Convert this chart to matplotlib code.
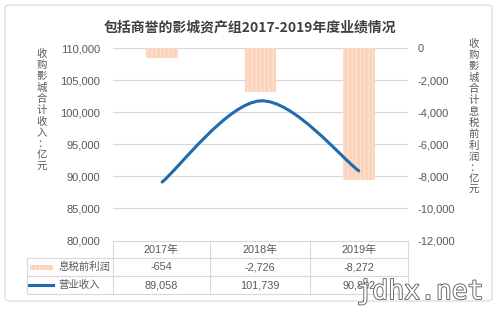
'''Revenue and EBIT of the cinema asset group, 2017-2019.'''

import numpy as np
import matplotlib
matplotlib.use('Agg')
import matplotlib.pyplot as plt
import matplotlib.patheffects as pe
from matplotlib.path import Path
from matplotlib.patches import PathPatch, FancyBboxPatch

plt.rcParams['font.family'] = ['Noto Sans CJK SC', 'DejaVu Sans']
plt.rcParams['hatch.linewidth'] = 0.6

years = ['2017年', '2018年', '2019年']
ebit = [-654, -2726, -8272]
revenue = [89058, 101739, 90802]
left_ticks = [80000, 85000, 90000, 95000, 100000, 105000, 110000]
right_ticks = [-12000, -10000, -8000, -6000, -4000, -2000, 0]

grey = '#595959'
bar_color = '#FBD3BC'
line_color = '#1F6BB0'
num_font = ['Liberation Sans', 'Noto Sans CJK SC']

fig = plt.figure(figsize=(5, 3.12), dpi=100)

# outer frame
frame = FancyBboxPatch((5 / 500, 1 - 301 / 312), 487 / 500, 296 / 312,
                       boxstyle='round,pad=0,rounding_size=0.01',
                       transform=fig.transFigure, fc='none',
                       ec='#D9D9D9', lw=0.8, zorder=-1)
fig.patches.append(frame)

ax = fig.add_axes([113 / 500, 1 - 240 / 312, 295 / 500, 192 / 312])
ax2 = ax.twinx()
ax.set_zorder(ax2.get_zorder() + 1)
ax.patch.set_visible(False)

x = np.arange(len(years))

# bars on right axis
ax2.bar(x, ebit, width=0.32, color=bar_color, edgecolor='#FDE6D8',
        hatch='||||', linewidth=0)
ax2.set_ylim(-12000, 0)
ax2.set_yticks(right_ticks)
ax2.set_yticklabels(['{:,}'.format(v) for v in right_ticks], family=num_font)

# smoothed revenue line (Catmull-Rom style bezier through the data points)
pts = np.column_stack([x, revenue]).astype(float)
verts = [pts[0]]
codes = [Path.MOVETO]
for i in range(len(pts) - 1):
    p0 = pts[max(i - 1, 0)]
    p1 = pts[i]
    p2 = pts[i + 1]
    p3 = pts[min(i + 2, len(pts) - 1)]
    verts += [p1 + (p2 - p0) / 6, p2 - (p3 - p1) / 6, p2]
    codes += [Path.CURVE4] * 3
ax.add_patch(PathPatch(Path(verts, codes), fc='none', ec=line_color,
                       lw=2.2, capstyle='round'))
ax.set_ylim(80000, 110000)
ax.set_yticks(left_ticks)
ax.set_yticklabels(['{:,}'.format(v) for v in left_ticks], family=num_font)
ax.set_xlim(-0.5, 2.5)
ax.set_xticks([])

for t in left_ticks[1:]:
    ax2.axhline(-12000 + (t - 80000) * 0.4, color='#D9D9D9', lw=0.8, zorder=0)
ax2.set_axisbelow(True)

for a in (ax, ax2):
    for s in a.spines.values():
        s.set_visible(False)
    a.tick_params(length=0, labelsize=8, labelcolor=grey)
ax.tick_params(axis='y', pad=9.5)
ax2.tick_params(axis='y', pad=7)

# stacked vertical axis titles
fig.text(42 / 500, 1 - 110 / 312, '\n'.join('收购影城合计收入：亿元'),
         ha='center', va='center', fontsize=7.5, color=grey, linespacing=1.15)
fig.text(474 / 500, 1 - 117 / 312, '\n'.join('收购影城合计息税前利润：亿元'),
         ha='center', va='center', fontsize=7.5, color=grey, linespacing=1.15)

fig.text(250 / 500, 1 - 27 / 312, '包括商誉的影城资产组2017-2019年度业绩情况',
         ha='center', va='center', fontsize=10, fontweight='bold', color='#404040')

# data table under the plot
tl = lambda px, py: (px / 500, 1 - py / 312)
rows_y = [241, 258, 276, 294]
col_x = [113, 210, 310, 408]
line_kw = dict(color='#D9D9D9', lw=0.8, transform=fig.transFigure)
fig.add_artist(plt.Line2D([tl(113, 0)[0], tl(408, 0)[0]], [tl(0, 241)[1]] * 2, **line_kw))
for yy in rows_y[1:]:
    fig.add_artist(plt.Line2D([tl(27, 0)[0], tl(408, 0)[0]], [tl(0, yy)[1]] * 2, **line_kw))
for xx in col_x:
    fig.add_artist(plt.Line2D([tl(xx, 0)[0]] * 2, [tl(0, 241)[1], tl(0, 294)[1]], **line_kw))
fig.add_artist(plt.Line2D([tl(27, 0)[0]] * 2, [tl(0, 258)[1], tl(0, 294)[1]], **line_kw))

for i, yr in enumerate(years):
    cx = (col_x[i] + col_x[i + 1]) / 2 / 500
    for row, txt in enumerate([yr, '{:,}'.format(ebit[i]), '{:,}'.format(revenue[i])]):
        cy = 1 - (rows_y[row] + rows_y[row + 1]) / 2 / 312
        fig.text(cx, cy, txt, ha='center', va='center', fontsize=7.8, color=grey,
                 family=num_font)

# legend keys in the table
cy1 = 1 - (258 + 276) / 2 / 312
cy2 = 1 - (276 + 294) / 2 / 312
fig.patches.append(plt.Rectangle((30 / 500, cy1 - 2.5 / 312), 23 / 500, 5 / 312,
                                 transform=fig.transFigure, fc=bar_color,
                                 ec='#FDE6D8', hatch='||||', lw=0))
fig.add_artist(plt.Line2D([29 / 500, 53 / 500], [cy2, cy2], color=line_color,
                          lw=2.2, transform=fig.transFigure))
fig.text(110 / 500, cy1, '息税前利润', ha='right', va='center', fontsize=7.5, color=grey)
fig.text(100 / 500, cy2, '营业收入', ha='right', va='center', fontsize=7.5, color=grey)

# watermark
fig.text(420 / 500, 1 - 292 / 312, 'jdhx.net', ha='center', va='center',
         fontsize=19, family='DejaVu Sans Mono', color='white',
         path_effects=[pe.withStroke(linewidth=1.2, foreground='#555555')])

fig.savefig('out.png', dpi=100)
